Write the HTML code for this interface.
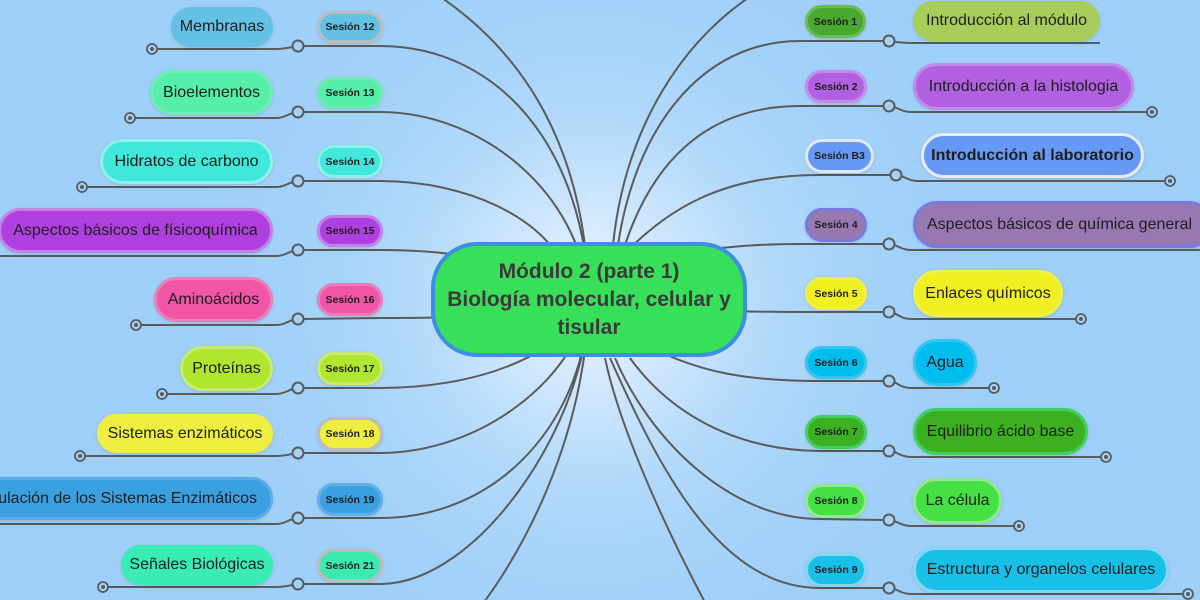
<!DOCTYPE html>
<html><head><meta charset="utf-8">
<style>
html,body{margin:0;padding:0;}
body{width:1200px;height:600px;overflow:hidden;position:relative;
background:radial-gradient(circle at 590px 300px,#eef7ff 0px,#cfe7fd 90px,#b0d8fa 190px,#a2d1f9 300px,#9ecff8 420px);
font-family:"Liberation Sans",sans-serif;}
svg{position:absolute;left:0;top:0;}
.n{position:absolute;box-sizing:border-box;display:flex;align-items:center;justify-content:center;border-radius:30px;white-space:nowrap;color:#1e1e1e;}
.s{font-size:10.5px;font-weight:bold;border-width:3px;border-style:solid;box-shadow:0 1px 3px rgba(0,0,0,0.12);}
.t{font-size:16px;border-width:3px;border-style:solid;box-shadow:0 1px 3px rgba(0,0,0,0.12);}
.c{position:absolute;left:431px;top:242px;width:316px;height:115px;box-sizing:border-box;border:4px solid #3b8fe2;background:#38e05a;border-radius:46px;display:flex;align-items:center;justify-content:center;text-align:center;font-weight:bold;font-size:21px;line-height:28px;color:#3a3a3a;white-space:nowrap;}
</style></head><body>
<svg width="1200" height="600" viewBox="0 0 1200 600">
<g fill="none" stroke="#5a5a5a" stroke-width="2">
<!-- left main connectors -->
<path d="M589 300 C586 170,540 60,430 -10"/>
<path d="M589 300 C585 150,500 46,380 46 L303 46"/>
<path d="M589 300 C580 190,480 112,380 112 L303 112"/>
<path d="M560 260 C540 220,470 181,380 181 L303 181"/>
<path d="M560 280 C480 255,440 250,380 250 L303 250"/>
<path d="M560 312 C480 317,440 318,380 318 L303 319"/>
<path d="M589 300 C560 360,470 388,380 388 L303 388"/>
<path d="M589 300 C575 380,480 453,380 453 L303 453"/>
<path d="M589 300 C585 420,500 518,380 518 L303 518"/>
<path d="M589 300 C588 420,480 584,380 584 L303 584"/>
<path d="M589 300 C585 440,520 560,470 620"/>
<!-- right main connectors -->
<path d="M613 245 C625 130,680 40,760 -10"/>
<path d="M618 245 C635 130,700 41,800 41 L884 41"/>
<path d="M625 245 C650 170,700 106,800 106 L884 106"/>
<path d="M630 248 C670 210,720 175,820 175 L891 175"/>
<path d="M700 250 C740 246,760 244,800 244 L884 244"/>
<path d="M700 311 C740 311,760 312,800 312 L884 312"/>
<path d="M660 352 C700 370,740 381,820 381 L884 381"/>
<path d="M630 358 C660 400,720 450,820 451 L884 451"/>
<path d="M615 358 C650 440,730 519,820 519 L884 520"/>
<path d="M610 358 C660 470,720 588,820 588 L884 588"/>
<path d="M605 358 C620 430,670 540,720 630"/>
<!-- left child lines -->
<path d="M293 47 C286 48,284 49,277 49 L157 49"/>
<path d="M293 113 C286 115,284 118,277 118 L135 118"/>
<path d="M293 182 C286 184,284 187,277 187 L87 187"/>
<path d="M293 251 C286 253,284 256,277 256 L-5 256"/>
<path d="M293 320 C286 322,284 325,277 325 L141 325"/>
<path d="M293 389 C286 391,284 394,277 394 L167 394"/>
<path d="M293 454 C286 455,284 456,277 456 L85 456"/>
<path d="M293 519 C286 521,284 524,277 524 L-5 524"/>
<path d="M293 585 C286 586,284 587,277 587 L108 587"/>
<!-- right child lines -->
<path d="M894 42 C900 42,903 43,911 43 L1100 43"/>
<path d="M894 107 C900 109,903 112,911 112 L1147 112"/>
<path d="M901 176 C907 178,910 181,918 181 L1165 181"/>
<path d="M894 245 C900 247,903 250,911 250 L1205 250"/>
<path d="M894 313 C900 316,903 319,911 319 L1076 319"/>
<path d="M894 382 C900 385,903 388,911 388 L989 388"/>
<path d="M894 452 C900 454,903 457,911 457 L1101 457"/>
<path d="M894 521 C900 523,903 526,911 526 L1014 526"/>
<path d="M894 589 C900 591,903 594,911 594 L1183 594"/>
</g>
<!-- joints -->
<g fill="#a3d2f9" stroke="#5a5a5a" stroke-width="2">
<circle cx="298" cy="46" r="5.5"/><circle cx="298" cy="112" r="5.5"/><circle cx="298" cy="181" r="5.5"/>
<circle cx="298" cy="250" r="5.5"/><circle cx="298" cy="319" r="5.5"/><circle cx="298" cy="388" r="5.5"/>
<circle cx="298" cy="453" r="5.5"/><circle cx="298" cy="518" r="5.5"/><circle cx="298" cy="584" r="5.5"/>
<circle cx="889" cy="41" r="5.5"/><circle cx="889" cy="106" r="5.5"/><circle cx="896" cy="175" r="5.5"/>
<circle cx="889" cy="244" r="5.5"/><circle cx="889" cy="312" r="5.5"/><circle cx="889" cy="381" r="5.5"/>
<circle cx="889" cy="451" r="5.5"/><circle cx="889" cy="520" r="5.5"/><circle cx="889" cy="588" r="5.5"/>
</g>
<!-- end dots -->
<g fill="#a3d2f9" stroke="#5a5a5a" stroke-width="1.8">
<circle cx="152" cy="49" r="5"/><circle cx="130" cy="118" r="5"/><circle cx="82" cy="187" r="5"/>
<circle cx="136" cy="325" r="5"/><circle cx="162" cy="394" r="5"/><circle cx="80" cy="456" r="5"/>
<circle cx="103" cy="587" r="5"/>
<circle cx="1152" cy="112" r="5"/><circle cx="1170" cy="181" r="5"/><circle cx="1081" cy="319" r="5"/>
<circle cx="994" cy="388" r="5"/><circle cx="1106" cy="457" r="5"/><circle cx="1019" cy="526" r="5"/>
<circle cx="1188" cy="594" r="5"/>
</g>
<g fill="#5a5a5a">
<circle cx="152" cy="49" r="2"/><circle cx="130" cy="118" r="2"/><circle cx="82" cy="187" r="2"/>
<circle cx="136" cy="325" r="2"/><circle cx="162" cy="394" r="2"/><circle cx="80" cy="456" r="2"/>
<circle cx="103" cy="587" r="2"/>
<circle cx="1152" cy="112" r="2"/><circle cx="1170" cy="181" r="2"/><circle cx="1081" cy="319" r="2"/>
<circle cx="994" cy="388" r="2"/><circle cx="1106" cy="457" r="2"/><circle cx="1019" cy="526" r="2"/>
<circle cx="1188" cy="594" r="2"/>
</g>
</svg>

<div class="c">Módulo 2 (parte 1)<br>Biología molecular, celular y<br>tisular</div>

<!-- left sessions -->
<div class="n s" style="left:317px;top:11px;width:66px;height:32px;background:#62c0e4;border-color:#bcbcbc;">Sesión 12</div>
<div class="n s" style="left:317px;top:77px;width:66px;height:32px;background:#55eea8;border-color:#6ee9b4;">Sesión 13</div>
<div class="n s" style="left:317px;top:145px;width:66px;height:33px;background:#40e8dc;border-color:#8ef0ea;">Sesión 14</div>
<div class="n s" style="left:317px;top:215px;width:66px;height:32px;background:#ae3fe0;border-color:#c57fe6;">Sesión 15</div>
<div class="n s" style="left:317px;top:283px;width:66px;height:33px;background:#f055a8;border-color:#e87fba;">Sesión 16</div>
<div class="n s" style="left:317px;top:352px;width:66px;height:33px;background:#b0e630;border-color:#c8ea70;">Sesión 17</div>
<div class="n s" style="left:317px;top:417px;width:66px;height:34px;background:#eeee40;border-color:#bcbcbc;">Sesión 18</div>
<div class="n s" style="left:317px;top:483px;width:66px;height:33px;background:#3aa0e0;border-color:#5eb0e6;">Sesión 19</div>
<div class="n s" style="left:317px;top:549px;width:66px;height:33px;background:#3aeab0;border-color:#bcbcbc;">Sesión 21</div>

<!-- left topics -->
<div class="n t" style="left:171px;top:7px;width:102px;height:40px;background:#65c0e6;border-color:#65c0e6;">Membranas</div>
<div class="n t" style="left:150px;top:70px;width:123px;height:45px;background:#55efa8;border-color:#70ecb6;">Bioelementos</div>
<div class="n t" style="left:100px;top:139px;width:173px;height:45px;background:#40e8dc;border-color:#92f0ea;">Hidratos de carbono</div>
<div class="n t" style="left:-2px;top:208px;width:275px;height:45px;background:#b03fe0;border-color:#c680e8;">Aspectos básicos de físicoquímica</div>
<div class="n t" style="left:154px;top:277px;width:119px;height:45px;background:#f055a8;border-color:#e880b8;">Aminoácidos</div>
<div class="n t" style="left:180px;top:346px;width:93px;height:45px;background:#b0e630;border-color:#c8ec70;">Proteínas</div>
<div class="n t" style="left:97px;top:414px;width:176px;height:39px;background:#eeee40;border-color:#eeee40;">Sistemas enzimáticos</div>
<div class="n t" style="left:-60px;top:477px;width:333px;height:43px;background:#3aa0e0;border-color:#55ace6;justify-content:flex-end;padding-right:13px;">Regulación de los Sistemas Enzimáticos</div>
<div class="n t" style="left:121px;top:545px;width:152px;height:40px;background:#38ecb4;border-color:#38ecb4;">Señales Biológicas</div>

<!-- right sessions -->
<div class="n s" style="left:805px;top:5px;width:61px;height:33px;background:#4aa830;border-color:#6cbc55;">Sesión 1</div>
<div class="n s" style="left:805px;top:70px;width:62px;height:33px;background:#b060e0;border-color:#c58aea;">Sesión 2</div>
<div class="n s" style="left:805px;top:139px;width:69px;height:34px;background:#6699f5;border-color:#e2e9f2;">Sesión B3</div>
<div class="n s" style="left:805px;top:208px;width:62px;height:34px;background:#9878b0;border-color:#7b78e0;">Sesión 4</div>
<div class="n s" style="left:805px;top:277px;width:62px;height:33px;background:#f0f020;border-color:#efef48;">Sesión 5</div>
<div class="n s" style="left:805px;top:346px;width:62px;height:33px;background:#00bdf0;border-color:#30c6f0;">Sesión 6</div>
<div class="n s" style="left:805px;top:415px;width:62px;height:34px;background:#3cb020;border-color:#40d060;">Sesión 7</div>
<div class="n s" style="left:805px;top:484px;width:62px;height:34px;background:#44e044;border-color:#92e892;">Sesión 8</div>
<div class="n s" style="left:805px;top:553px;width:62px;height:34px;background:#18c0e8;border-color:#82d8f2;">Sesión 9</div>

<!-- right topics -->
<div class="n t" style="left:913px;top:1px;width:187px;height:40px;background:#a8cc5a;border-color:#a8cc5a;">Introducción al módulo</div>
<div class="n t" style="left:913px;top:63px;width:221px;height:47px;background:#b060e0;border-color:#c088ea;">Introducción a la histologia</div>
<div class="n t" style="left:921px;top:133px;width:223px;height:45px;background:#6699f5;border-color:#e6ecf3;font-weight:bold;">Introducción al laboratorio</div>
<div class="n t" style="left:913px;top:201px;width:300px;height:47px;background:#9878b0;border-color:#7b78e0;justify-content:flex-start;padding-left:11px;">Aspectos básicos de química general</div>
<div class="n t" style="left:913px;top:270px;width:150px;height:47px;background:#f0f020;border-color:#efef48;">Enlaces químicos</div>
<div class="n t" style="left:913px;top:339px;width:64px;height:47px;background:#00bdf0;border-color:#30c6f0;">Agua</div>
<div class="n t" style="left:913px;top:408px;width:175px;height:47px;background:#3cb020;border-color:#40d060;">Equilibrio ácido base</div>
<div class="n t" style="left:913px;top:478px;width:89px;height:46px;background:#44e044;border-color:#92e892;">La célula</div>
<div class="n t" style="left:913px;top:547px;width:256px;height:46px;background:#18c0e8;border-color:#82d8f2;">Estructura y organelos celulares</div>
</body></html>
